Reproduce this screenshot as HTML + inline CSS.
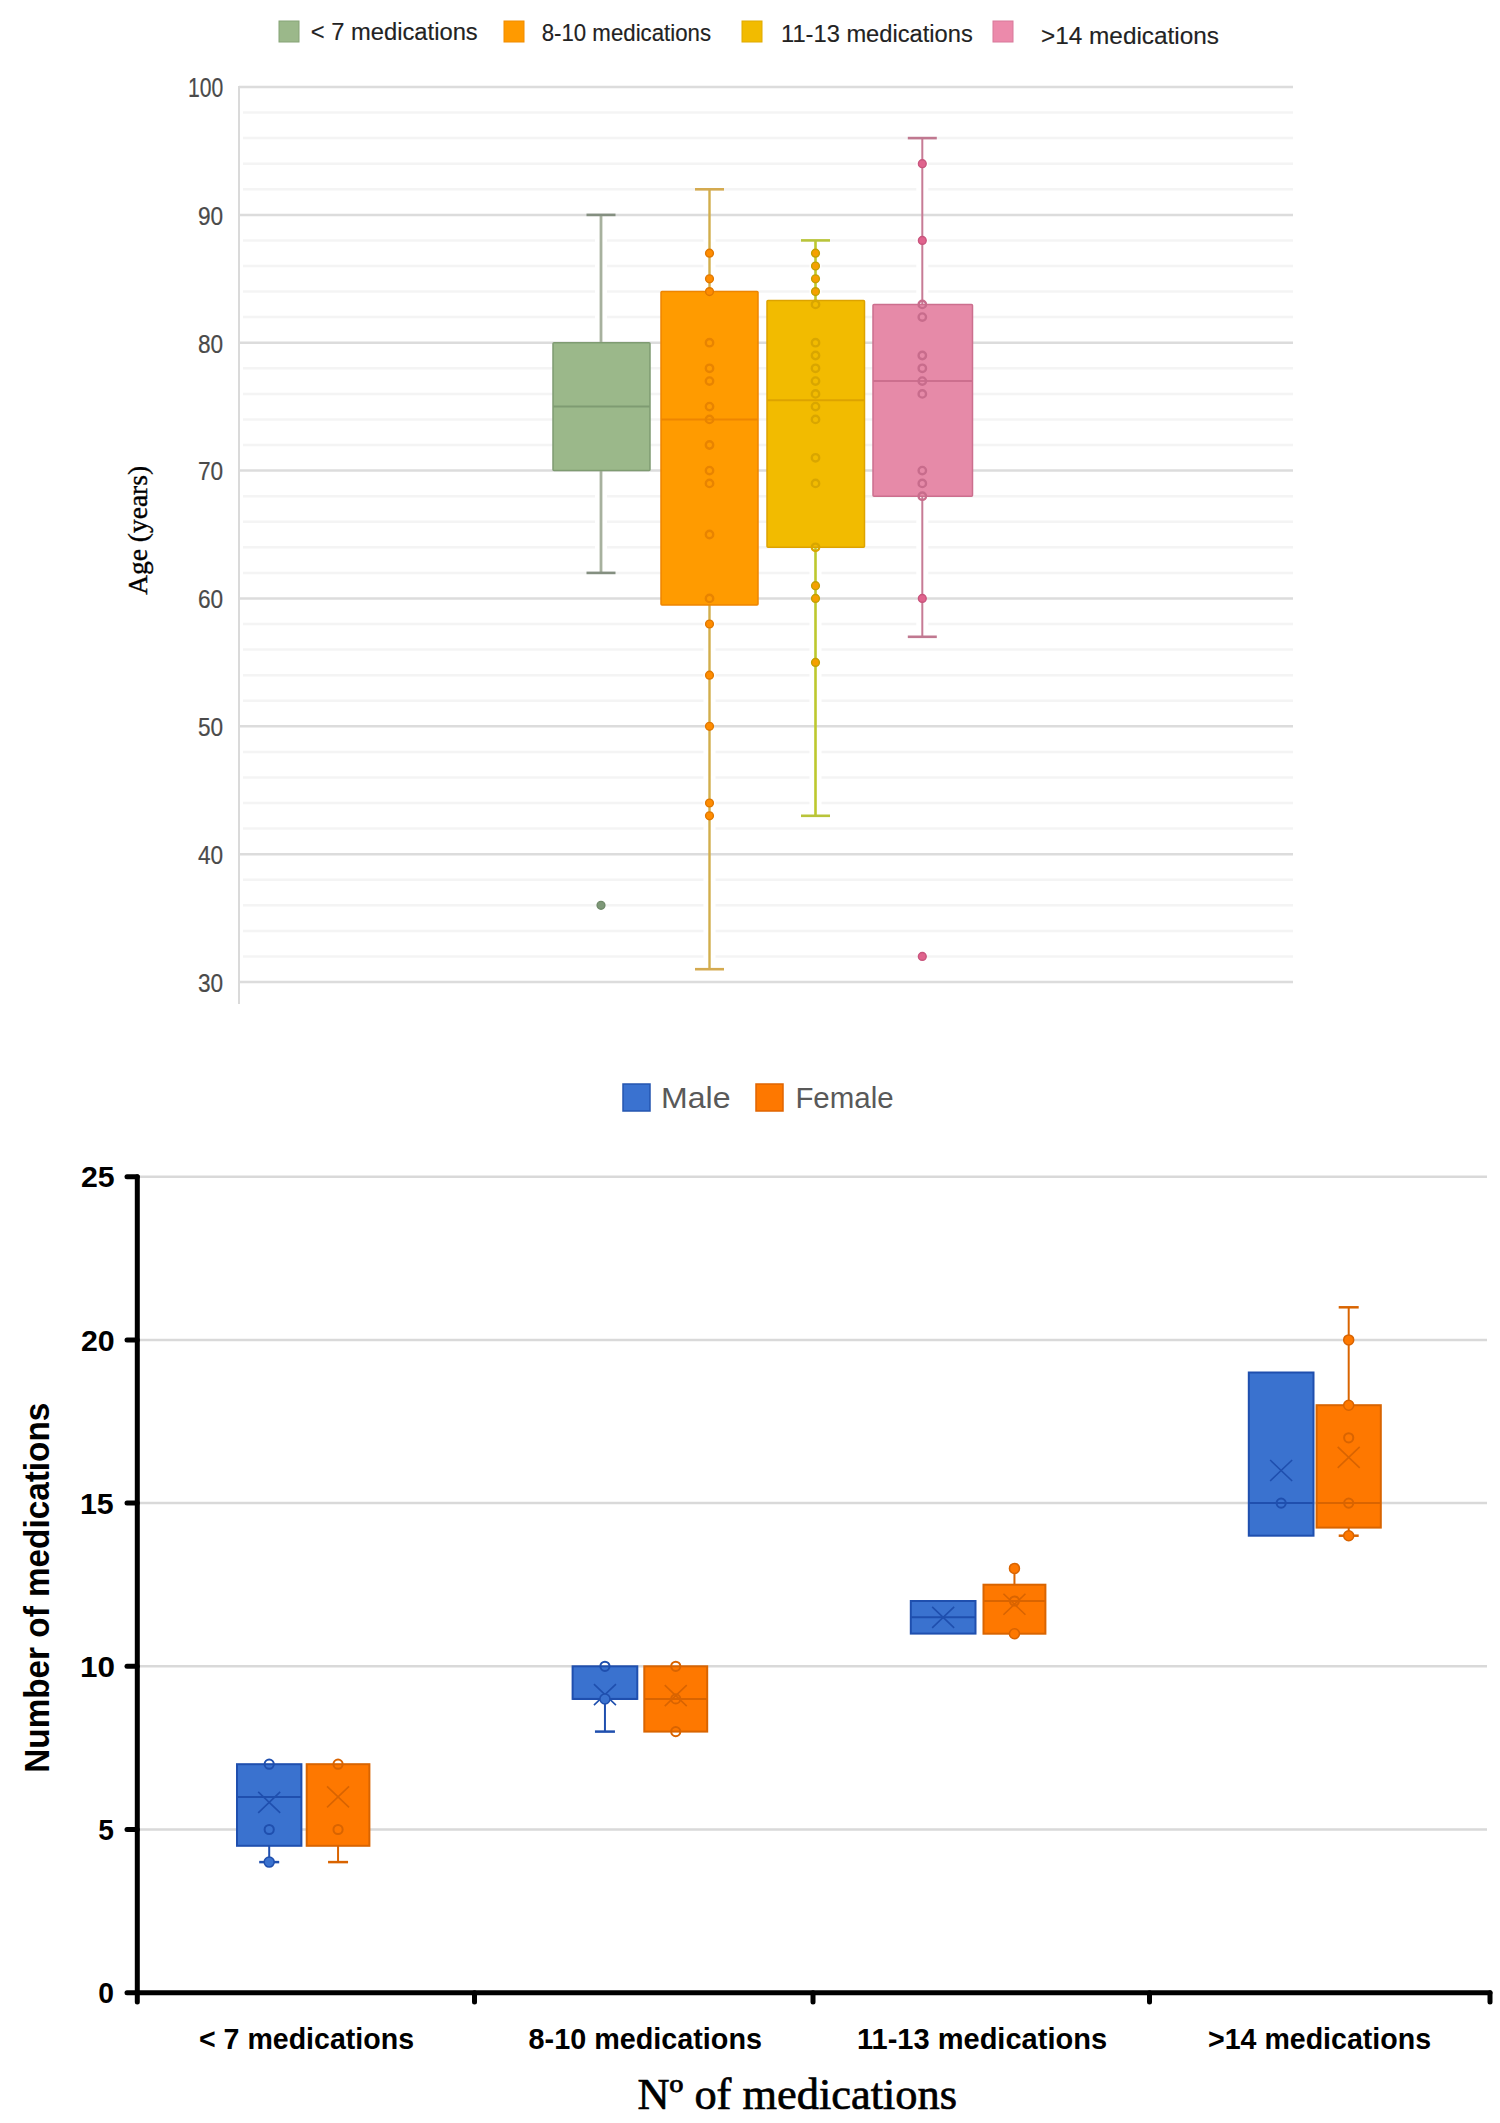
<!DOCTYPE html><html><head><meta charset="utf-8"><title>Box plots: age and number of medications</title><style>html,body{margin:0;padding:0;background:#fff;}svg{display:block;}</style></head><body>
<svg width="1500" height="2123" viewBox="0 0 1500 2123">
<rect width="1500" height="2123" fill="#fff"/>
<line x1="243" y1="956.4" x2="1293" y2="956.4" stroke="#f4f4f4" stroke-width="2.5"/>
<line x1="243" y1="930.9" x2="1293" y2="930.9" stroke="#f4f4f4" stroke-width="2.5"/>
<line x1="243" y1="905.3" x2="1293" y2="905.3" stroke="#f4f4f4" stroke-width="2.5"/>
<line x1="243" y1="879.7" x2="1293" y2="879.7" stroke="#f4f4f4" stroke-width="2.5"/>
<line x1="243" y1="828.6" x2="1293" y2="828.6" stroke="#f4f4f4" stroke-width="2.5"/>
<line x1="243" y1="803.0" x2="1293" y2="803.0" stroke="#f4f4f4" stroke-width="2.5"/>
<line x1="243" y1="777.4" x2="1293" y2="777.4" stroke="#f4f4f4" stroke-width="2.5"/>
<line x1="243" y1="751.9" x2="1293" y2="751.9" stroke="#f4f4f4" stroke-width="2.5"/>
<line x1="243" y1="700.7" x2="1293" y2="700.7" stroke="#f4f4f4" stroke-width="2.5"/>
<line x1="243" y1="675.2" x2="1293" y2="675.2" stroke="#f4f4f4" stroke-width="2.5"/>
<line x1="243" y1="649.6" x2="1293" y2="649.6" stroke="#f4f4f4" stroke-width="2.5"/>
<line x1="243" y1="624.0" x2="1293" y2="624.0" stroke="#f4f4f4" stroke-width="2.5"/>
<line x1="243" y1="572.9" x2="1293" y2="572.9" stroke="#f4f4f4" stroke-width="2.5"/>
<line x1="243" y1="547.3" x2="1293" y2="547.3" stroke="#f4f4f4" stroke-width="2.5"/>
<line x1="243" y1="521.7" x2="1293" y2="521.7" stroke="#f4f4f4" stroke-width="2.5"/>
<line x1="243" y1="496.2" x2="1293" y2="496.2" stroke="#f4f4f4" stroke-width="2.5"/>
<line x1="243" y1="445.0" x2="1293" y2="445.0" stroke="#f4f4f4" stroke-width="2.5"/>
<line x1="243" y1="419.4" x2="1293" y2="419.4" stroke="#f4f4f4" stroke-width="2.5"/>
<line x1="243" y1="393.9" x2="1293" y2="393.9" stroke="#f4f4f4" stroke-width="2.5"/>
<line x1="243" y1="368.3" x2="1293" y2="368.3" stroke="#f4f4f4" stroke-width="2.5"/>
<line x1="243" y1="317.1" x2="1293" y2="317.1" stroke="#f4f4f4" stroke-width="2.5"/>
<line x1="243" y1="291.6" x2="1293" y2="291.6" stroke="#f4f4f4" stroke-width="2.5"/>
<line x1="243" y1="266.0" x2="1293" y2="266.0" stroke="#f4f4f4" stroke-width="2.5"/>
<line x1="243" y1="240.4" x2="1293" y2="240.4" stroke="#f4f4f4" stroke-width="2.5"/>
<line x1="243" y1="189.3" x2="1293" y2="189.3" stroke="#f4f4f4" stroke-width="2.5"/>
<line x1="243" y1="163.7" x2="1293" y2="163.7" stroke="#f4f4f4" stroke-width="2.5"/>
<line x1="243" y1="138.1" x2="1293" y2="138.1" stroke="#f4f4f4" stroke-width="2.5"/>
<line x1="243" y1="112.6" x2="1293" y2="112.6" stroke="#f4f4f4" stroke-width="2.5"/>
<line x1="601" y1="216.9" x2="601" y2="342.7" stroke="#fff" stroke-width="12"/>
<line x1="601" y1="470.6" x2="601" y2="570.9" stroke="#fff" stroke-width="12"/>
<line x1="709.5" y1="191.3" x2="709.5" y2="291.6" stroke="#fff" stroke-width="12"/>
<line x1="709.5" y1="604.8" x2="709.5" y2="967.2" stroke="#fff" stroke-width="12"/>
<line x1="815.5" y1="242.4" x2="815.5" y2="300.5" stroke="#fff" stroke-width="12"/>
<line x1="815.5" y1="547.3" x2="815.5" y2="813.8" stroke="#fff" stroke-width="12"/>
<line x1="922.3" y1="140.1" x2="922.3" y2="304.4" stroke="#fff" stroke-width="12"/>
<line x1="922.3" y1="496.2" x2="922.3" y2="634.8" stroke="#fff" stroke-width="12"/>
<line x1="239" y1="982.0" x2="1293" y2="982.0" stroke="#dcdcdc" stroke-width="2.5"/>
<line x1="239" y1="854.2" x2="1293" y2="854.2" stroke="#dcdcdc" stroke-width="2.5"/>
<line x1="239" y1="726.3" x2="1293" y2="726.3" stroke="#dcdcdc" stroke-width="2.5"/>
<line x1="239" y1="598.4" x2="1293" y2="598.4" stroke="#dcdcdc" stroke-width="2.5"/>
<line x1="239" y1="470.6" x2="1293" y2="470.6" stroke="#dcdcdc" stroke-width="2.5"/>
<line x1="239" y1="342.7" x2="1293" y2="342.7" stroke="#dcdcdc" stroke-width="2.5"/>
<line x1="239" y1="214.9" x2="1293" y2="214.9" stroke="#dcdcdc" stroke-width="2.5"/>
<line x1="239" y1="87.0" x2="1293" y2="87.0" stroke="#dcdcdc" stroke-width="2.5"/>
<line x1="239" y1="86" x2="239" y2="1004" stroke="#dadada" stroke-width="2"/>
<text x="198.00" y="992.22" textLength="25.19" lengthAdjust="spacingAndGlyphs" font-family="Liberation Sans, sans-serif" font-weight="normal" font-size="25.00" fill="#4a4a4a" stroke="#4a4a4a" stroke-width="0.2">30</text>
<text x="198.00" y="864.16" textLength="25.19" lengthAdjust="spacingAndGlyphs" font-family="Liberation Sans, sans-serif" font-weight="normal" font-size="25.00" fill="#4a4a4a" stroke="#4a4a4a" stroke-width="0.2">40</text>
<text x="198.00" y="736.10" textLength="25.19" lengthAdjust="spacingAndGlyphs" font-family="Liberation Sans, sans-serif" font-weight="normal" font-size="25.00" fill="#4a4a4a" stroke="#4a4a4a" stroke-width="0.2">50</text>
<text x="198.00" y="608.04" textLength="25.19" lengthAdjust="spacingAndGlyphs" font-family="Liberation Sans, sans-serif" font-weight="normal" font-size="25.00" fill="#4a4a4a" stroke="#4a4a4a" stroke-width="0.2">60</text>
<text x="198.00" y="479.98" textLength="25.19" lengthAdjust="spacingAndGlyphs" font-family="Liberation Sans, sans-serif" font-weight="normal" font-size="25.00" fill="#4a4a4a" stroke="#4a4a4a" stroke-width="0.2">70</text>
<text x="198.00" y="352.92" textLength="25.19" lengthAdjust="spacingAndGlyphs" font-family="Liberation Sans, sans-serif" font-weight="normal" font-size="25.00" fill="#4a4a4a" stroke="#4a4a4a" stroke-width="0.2">80</text>
<text x="198.00" y="224.86" textLength="25.19" lengthAdjust="spacingAndGlyphs" font-family="Liberation Sans, sans-serif" font-weight="normal" font-size="25.00" fill="#4a4a4a" stroke="#4a4a4a" stroke-width="0.2">90</text>
<text x="188.00" y="97.00" textLength="35.31" lengthAdjust="spacingAndGlyphs" font-family="Liberation Sans, sans-serif" font-weight="normal" font-size="27.32" fill="#4a4a4a" stroke="#4a4a4a" stroke-width="0.2">100</text>
<text transform="translate(147.30,594.70) rotate(-90)" x="0" y="0" textLength="128.72" lengthAdjust="spacingAndGlyphs" font-family="Liberation Serif, serif" font-weight="normal" font-size="28.00" fill="#000" stroke="#000" stroke-width="0.4">Age (years)</text>
<rect x="279" y="21" width="20" height="21" fill="#9bb88a" stroke="#86a377" stroke-width="1"/>
<rect x="504" y="21" width="20" height="21" fill="#ff9a00" stroke="#f08c00" stroke-width="1"/>
<rect x="742" y="21" width="20" height="21" fill="#f2bb00" stroke="#e0aa00" stroke-width="1"/>
<rect x="993" y="21" width="20" height="21" fill="#ec8aab" stroke="#d8789a" stroke-width="1"/>
<text x="310.70" y="39.80" textLength="167.04" lengthAdjust="spacingAndGlyphs" font-family="Liberation Sans, sans-serif" font-weight="normal" font-size="24.61" fill="#222" stroke="#222" stroke-width="0.15">&lt; 7 medications</text>
<text x="541.70" y="41.00" textLength="169.35" lengthAdjust="spacingAndGlyphs" font-family="Liberation Sans, sans-serif" font-weight="normal" font-size="23.64" fill="#222" stroke="#222" stroke-width="0.15">8-10 medications</text>
<text x="781.00" y="41.50" textLength="191.75" lengthAdjust="spacingAndGlyphs" font-family="Liberation Sans, sans-serif" font-weight="normal" font-size="24.75" fill="#222" stroke="#222" stroke-width="0.15">11-13 medications</text>
<text x="1041.00" y="43.70" textLength="178.02" lengthAdjust="spacingAndGlyphs" font-family="Liberation Sans, sans-serif" font-weight="normal" font-size="23.81" fill="#222" stroke="#222" stroke-width="0.15">&gt;14 medications</text>
<line x1="601" y1="214.9" x2="601" y2="342.7" stroke="#a7b19e" stroke-width="2.8"/>
<line x1="601" y1="470.6" x2="601" y2="572.9" stroke="#a7b19e" stroke-width="2.8"/>
<line x1="586.5" y1="214.9" x2="615.5" y2="214.9" stroke="#848f80" stroke-width="2.6"/>
<line x1="586.5" y1="572.9" x2="615.5" y2="572.9" stroke="#848f80" stroke-width="2.6"/>
<rect x="553" y="342.7" width="97" height="127.9" fill="#9bb88a" stroke="#7f9b72" stroke-width="1.5" rx="1"/>
<line x1="553" y1="406.6" x2="650" y2="406.6" stroke="#7f9b72" stroke-width="2"/>
<circle cx="601" cy="905.3" r="3.9" fill="#7e9878" stroke="#708a6a" stroke-width="1.4"/>
<line x1="709.5" y1="189.3" x2="709.5" y2="291.6" stroke="#d2ae4c" stroke-width="2.4"/>
<line x1="709.5" y1="604.8" x2="709.5" y2="969.2" stroke="#d2ae4c" stroke-width="2.4"/>
<line x1="695.0" y1="189.3" x2="724.0" y2="189.3" stroke="#d4aa50" stroke-width="2.6"/>
<line x1="695.0" y1="969.2" x2="724.0" y2="969.2" stroke="#d4aa50" stroke-width="2.6"/>
<rect x="661" y="291.6" width="97" height="313.3" fill="#ff9b00" stroke="#ee8500" stroke-width="1.5" rx="1"/>
<line x1="661" y1="419.4" x2="758" y2="419.4" stroke="#ee8500" stroke-width="2"/>
<circle cx="709.5" cy="342.7" r="3.7" fill="none" stroke="#e88400" stroke-width="2.4"/>
<circle cx="709.5" cy="368.3" r="3.7" fill="none" stroke="#e88400" stroke-width="2.4"/>
<circle cx="709.5" cy="381.1" r="3.7" fill="none" stroke="#e88400" stroke-width="2.4"/>
<circle cx="709.5" cy="406.6" r="3.7" fill="none" stroke="#e88400" stroke-width="2.4"/>
<circle cx="709.5" cy="419.4" r="3.7" fill="none" stroke="#e88400" stroke-width="2.4"/>
<circle cx="709.5" cy="445.0" r="3.7" fill="none" stroke="#e88400" stroke-width="2.4"/>
<circle cx="709.5" cy="470.6" r="3.7" fill="none" stroke="#e88400" stroke-width="2.4"/>
<circle cx="709.5" cy="483.4" r="3.7" fill="none" stroke="#e88400" stroke-width="2.4"/>
<circle cx="709.5" cy="534.5" r="3.7" fill="none" stroke="#e88400" stroke-width="2.4"/>
<circle cx="709.5" cy="598.4" r="3.7" fill="none" stroke="#e88400" stroke-width="2.4"/>
<circle cx="709.5" cy="253.2" r="3.9" fill="#ff8c00" stroke="#e07800" stroke-width="1.4"/>
<circle cx="709.5" cy="278.8" r="3.9" fill="#ff8c00" stroke="#e07800" stroke-width="1.4"/>
<circle cx="709.5" cy="291.6" r="3.9" fill="#ff8c00" stroke="#e07800" stroke-width="1.4"/>
<circle cx="709.5" cy="624.0" r="3.9" fill="#ff8c00" stroke="#e07800" stroke-width="1.4"/>
<circle cx="709.5" cy="675.2" r="3.9" fill="#ff8c00" stroke="#e07800" stroke-width="1.4"/>
<circle cx="709.5" cy="726.3" r="3.9" fill="#ff8c00" stroke="#e07800" stroke-width="1.4"/>
<circle cx="709.5" cy="803.0" r="3.9" fill="#ff8c00" stroke="#e07800" stroke-width="1.4"/>
<circle cx="709.5" cy="815.8" r="3.9" fill="#ff8c00" stroke="#e07800" stroke-width="1.4"/>
<line x1="815.5" y1="240.4" x2="815.5" y2="300.5" stroke="#bdc82e" stroke-width="2.6"/>
<line x1="815.5" y1="547.3" x2="815.5" y2="815.8" stroke="#bdc82e" stroke-width="2.6"/>
<line x1="801.0" y1="240.4" x2="830.0" y2="240.4" stroke="#b9c43a" stroke-width="2.6"/>
<line x1="801.0" y1="815.8" x2="830.0" y2="815.8" stroke="#b9c43a" stroke-width="2.6"/>
<rect x="767" y="300.5" width="97.5" height="246.8" fill="#f2bb00" stroke="#dda300" stroke-width="1.5" rx="1"/>
<line x1="767" y1="400.3" x2="864.5" y2="400.3" stroke="#dda300" stroke-width="2"/>
<circle cx="815.5" cy="304.4" r="3.7" fill="none" stroke="#d9a600" stroke-width="2.4"/>
<circle cx="815.5" cy="342.7" r="3.7" fill="none" stroke="#d9a600" stroke-width="2.4"/>
<circle cx="815.5" cy="355.5" r="3.7" fill="none" stroke="#d9a600" stroke-width="2.4"/>
<circle cx="815.5" cy="368.3" r="3.7" fill="none" stroke="#d9a600" stroke-width="2.4"/>
<circle cx="815.5" cy="381.1" r="3.7" fill="none" stroke="#d9a600" stroke-width="2.4"/>
<circle cx="815.5" cy="393.9" r="3.7" fill="none" stroke="#d9a600" stroke-width="2.4"/>
<circle cx="815.5" cy="406.6" r="3.7" fill="none" stroke="#d9a600" stroke-width="2.4"/>
<circle cx="815.5" cy="419.4" r="3.7" fill="none" stroke="#d9a600" stroke-width="2.4"/>
<circle cx="815.5" cy="457.8" r="3.7" fill="none" stroke="#d9a600" stroke-width="2.4"/>
<circle cx="815.5" cy="483.4" r="3.7" fill="none" stroke="#d9a600" stroke-width="2.4"/>
<circle cx="815.5" cy="547.3" r="3.7" fill="none" stroke="#d9a600" stroke-width="2.4"/>
<circle cx="815.5" cy="253.2" r="3.9" fill="#f5a000" stroke="#c4a000" stroke-width="1.4"/>
<circle cx="815.5" cy="266.0" r="3.9" fill="#f5a000" stroke="#c4a000" stroke-width="1.4"/>
<circle cx="815.5" cy="278.8" r="3.9" fill="#f5a000" stroke="#c4a000" stroke-width="1.4"/>
<circle cx="815.5" cy="291.6" r="3.9" fill="#f5a000" stroke="#c4a000" stroke-width="1.4"/>
<circle cx="815.5" cy="585.7" r="3.9" fill="#f5a000" stroke="#c4a000" stroke-width="1.4"/>
<circle cx="815.5" cy="598.4" r="3.9" fill="#f5a000" stroke="#c4a000" stroke-width="1.4"/>
<circle cx="815.5" cy="662.4" r="3.9" fill="#f5a000" stroke="#c4a000" stroke-width="1.4"/>
<line x1="922.3" y1="138.1" x2="922.3" y2="304.4" stroke="#c77b95" stroke-width="2.0"/>
<line x1="922.3" y1="496.2" x2="922.3" y2="636.8" stroke="#c77b95" stroke-width="2.0"/>
<line x1="907.8" y1="138.1" x2="936.8" y2="138.1" stroke="#c07890" stroke-width="2.6"/>
<line x1="907.8" y1="636.8" x2="936.8" y2="636.8" stroke="#c07890" stroke-width="2.6"/>
<rect x="873" y="304.4" width="99.5" height="191.8" fill="#e68aa8" stroke="#cc6f8e" stroke-width="1.5" rx="1"/>
<line x1="873" y1="381.1" x2="972.5" y2="381.1" stroke="#cc6f8e" stroke-width="2"/>
<circle cx="922.3" cy="304.4" r="3.7" fill="none" stroke="#c86c8c" stroke-width="2.4"/>
<circle cx="922.3" cy="317.1" r="3.7" fill="none" stroke="#c86c8c" stroke-width="2.4"/>
<circle cx="922.3" cy="355.5" r="3.7" fill="none" stroke="#c86c8c" stroke-width="2.4"/>
<circle cx="922.3" cy="368.3" r="3.7" fill="none" stroke="#c86c8c" stroke-width="2.4"/>
<circle cx="922.3" cy="381.1" r="3.7" fill="none" stroke="#c86c8c" stroke-width="2.4"/>
<circle cx="922.3" cy="393.9" r="3.7" fill="none" stroke="#c86c8c" stroke-width="2.4"/>
<circle cx="922.3" cy="470.6" r="3.7" fill="none" stroke="#c86c8c" stroke-width="2.4"/>
<circle cx="922.3" cy="483.4" r="3.7" fill="none" stroke="#c86c8c" stroke-width="2.4"/>
<circle cx="922.3" cy="496.2" r="3.7" fill="none" stroke="#c86c8c" stroke-width="2.4"/>
<circle cx="922.3" cy="163.7" r="3.9" fill="#e0638d" stroke="#c8557d" stroke-width="1.4"/>
<circle cx="922.3" cy="240.4" r="3.9" fill="#e0638d" stroke="#c8557d" stroke-width="1.4"/>
<circle cx="922.3" cy="598.4" r="3.9" fill="#e0638d" stroke="#c8557d" stroke-width="1.4"/>
<circle cx="922.3" cy="956.4" r="3.9" fill="#e0638d" stroke="#c8557d" stroke-width="1.4"/>
<rect x="623" y="1084" width="27" height="27" fill="#3a72d0" stroke="#2456b0" stroke-width="1.5"/>
<rect x="756" y="1084" width="27" height="27" fill="#fe7800" stroke="#e06400" stroke-width="1.5"/>
<text x="661.00" y="1108.20" textLength="69.50" lengthAdjust="spacingAndGlyphs" font-family="Liberation Sans, sans-serif" font-weight="normal" font-size="29.17" fill="#595959">Male</text>
<text x="795.40" y="1108.20" textLength="98.18" lengthAdjust="spacingAndGlyphs" font-family="Liberation Sans, sans-serif" font-weight="normal" font-size="29.17" fill="#595959">Female</text>
<line x1="140" y1="1829.5" x2="1487" y2="1829.5" stroke="#d9d9d9" stroke-width="2.5"/>
<line x1="140" y1="1666.3" x2="1487" y2="1666.3" stroke="#d9d9d9" stroke-width="2.5"/>
<line x1="140" y1="1503.1" x2="1487" y2="1503.1" stroke="#d9d9d9" stroke-width="2.5"/>
<line x1="140" y1="1339.9" x2="1487" y2="1339.9" stroke="#d9d9d9" stroke-width="2.5"/>
<line x1="140" y1="1176.7" x2="1487" y2="1176.7" stroke="#d9d9d9" stroke-width="2.5"/>
<line x1="137.3" y1="1176.7" x2="137.3" y2="2002" stroke="#000" stroke-width="5" stroke-linecap="round"/>
<line x1="137.3" y1="1992.7" x2="1490" y2="1992.7" stroke="#000" stroke-width="5" stroke-linecap="round"/>
<line x1="127" y1="1992.7" x2="137.3" y2="1992.7" stroke="#000" stroke-width="5" stroke-linecap="round"/>
<text x="98.30" y="2003.30" textLength="15.73" lengthAdjust="spacingAndGlyphs" font-family="Liberation Sans, sans-serif" font-weight="bold" font-size="30.22" fill="#000">0</text>
<line x1="127" y1="1829.5" x2="137.3" y2="1829.5" stroke="#000" stroke-width="5" stroke-linecap="round"/>
<text x="98.30" y="1840.10" textLength="15.65" lengthAdjust="spacingAndGlyphs" font-family="Liberation Sans, sans-serif" font-weight="bold" font-size="30.22" fill="#000">5</text>
<line x1="127" y1="1666.3" x2="137.3" y2="1666.3" stroke="#000" stroke-width="5" stroke-linecap="round"/>
<text x="80.00" y="1676.90" textLength="34.96" lengthAdjust="spacingAndGlyphs" font-family="Liberation Sans, sans-serif" font-weight="bold" font-size="30.22" fill="#000">10</text>
<line x1="127" y1="1503.1" x2="137.3" y2="1503.1" stroke="#000" stroke-width="5" stroke-linecap="round"/>
<text x="80.00" y="1513.70" textLength="33.76" lengthAdjust="spacingAndGlyphs" font-family="Liberation Sans, sans-serif" font-weight="bold" font-size="30.22" fill="#000">15</text>
<line x1="127" y1="1339.9" x2="137.3" y2="1339.9" stroke="#000" stroke-width="5" stroke-linecap="round"/>
<text x="81.00" y="1350.50" textLength="33.76" lengthAdjust="spacingAndGlyphs" font-family="Liberation Sans, sans-serif" font-weight="bold" font-size="30.22" fill="#000">20</text>
<line x1="127" y1="1176.7" x2="137.3" y2="1176.7" stroke="#000" stroke-width="5" stroke-linecap="round"/>
<text x="81.00" y="1187.30" textLength="33.68" lengthAdjust="spacingAndGlyphs" font-family="Liberation Sans, sans-serif" font-weight="bold" font-size="30.22" fill="#000">25</text>
<line x1="474.5" y1="1992.7" x2="474.5" y2="2002" stroke="#000" stroke-width="5" stroke-linecap="round"/>
<line x1="813" y1="1992.7" x2="813" y2="2002" stroke="#000" stroke-width="5" stroke-linecap="round"/>
<line x1="1149.5" y1="1992.7" x2="1149.5" y2="2002" stroke="#000" stroke-width="5" stroke-linecap="round"/>
<line x1="1490" y1="1992.7" x2="1490" y2="2002" stroke="#000" stroke-width="5" stroke-linecap="round"/>
<text x="199.00" y="2048.60" textLength="215.02" lengthAdjust="spacingAndGlyphs" font-family="Liberation Sans, sans-serif" font-weight="bold" font-size="29.29" fill="#000">&lt; 7 medications</text>
<text x="528.60" y="2048.60" textLength="233.42" lengthAdjust="spacingAndGlyphs" font-family="Liberation Sans, sans-serif" font-weight="bold" font-size="29.29" fill="#000">8-10 medications</text>
<text x="857.00" y="2048.60" textLength="250.04" lengthAdjust="spacingAndGlyphs" font-family="Liberation Sans, sans-serif" font-weight="bold" font-size="29.29" fill="#000">11-13 medications</text>
<text x="1208.00" y="2048.60" textLength="223.02" lengthAdjust="spacingAndGlyphs" font-family="Liberation Sans, sans-serif" font-weight="bold" font-size="29.29" fill="#000">&gt;14 medications</text>
<text x="637.50" y="2109.30" textLength="319.52" lengthAdjust="spacingAndGlyphs" font-family="Liberation Serif, serif" font-weight="normal" font-size="43.51" fill="#000" stroke="#000" stroke-width="0.7">N&#186; of medications</text>
<text transform="translate(48.50,1772.70) rotate(-90)" x="0" y="0" textLength="369.93" lengthAdjust="spacingAndGlyphs" font-family="Liberation Sans, sans-serif" font-weight="bold" font-size="35.70" fill="#000">Number of medications</text>
<line x1="269.2" y1="1845.8" x2="269.2" y2="1862.1" stroke="#1f4fae" stroke-width="2"/>
<line x1="259.2" y1="1862.1" x2="279.2" y2="1862.1" stroke="#1f4fae" stroke-width="2.5"/>
<rect x="237" y="1764.2" width="64.4" height="81.6" fill="#3a72cf" stroke="#1f4fae" stroke-width="2"/>
<line x1="237" y1="1796.9" x2="301.4" y2="1796.9" stroke="#1f4fae" stroke-width="2"/>
<path d="M258.2,1791.9088000000002 L280.2,1812.9088000000002 M258.2,1812.9088000000002 L280.2,1791.9088000000002" stroke="#1f4fae" stroke-width="1.6" fill="none"/>
<circle cx="269.2" cy="1764.2" r="4.6" fill="none" stroke="#1f4fae" stroke-width="2"/>
<circle cx="269.2" cy="1829.5" r="4.6" fill="none" stroke="#1f4fae" stroke-width="2"/>
<circle cx="269.2" cy="1862.1" r="5" fill="#3a72cf" stroke="#1f4fae" stroke-width="1.5"/>
<line x1="338.04999999999995" y1="1845.8" x2="338.04999999999995" y2="1862.1" stroke="#d96400" stroke-width="2"/>
<line x1="328.04999999999995" y1="1862.1" x2="348.04999999999995" y2="1862.1" stroke="#d96400" stroke-width="2.5"/>
<rect x="306.7" y="1764.2" width="62.7" height="81.6" fill="#fe7800" stroke="#d96400" stroke-width="2"/>
<path d="M327.04999999999995,1786.3600000000001 L349.04999999999995,1807.3600000000001 M327.04999999999995,1807.3600000000001 L349.04999999999995,1786.3600000000001" stroke="#d96400" stroke-width="1.6" fill="none"/>
<circle cx="338.04999999999995" cy="1764.2" r="4.6" fill="none" stroke="#d96400" stroke-width="2"/>
<circle cx="338.04999999999995" cy="1829.5" r="4.6" fill="none" stroke="#d96400" stroke-width="2"/>
<line x1="604.95" y1="1698.9" x2="604.95" y2="1731.6" stroke="#1f4fae" stroke-width="2"/>
<line x1="594.95" y1="1731.6" x2="614.95" y2="1731.6" stroke="#1f4fae" stroke-width="2.5"/>
<rect x="572.6" y="1666.3" width="64.7" height="32.6" fill="#3a72cf" stroke="#1f4fae" stroke-width="2"/>
<line x1="572.6" y1="1698.9" x2="637.3" y2="1698.9" stroke="#1f4fae" stroke-width="2"/>
<path d="M593.95,1684.1968 L615.95,1705.1968 M593.95,1705.1968 L615.95,1684.1968" stroke="#1f4fae" stroke-width="1.6" fill="none"/>
<circle cx="604.95" cy="1666.3" r="4.6" fill="none" stroke="#1f4fae" stroke-width="2"/>
<circle cx="604.95" cy="1698.9" r="5" fill="#3a72cf" stroke="#1f4fae" stroke-width="1.5"/>
<rect x="644.3" y="1666.3" width="62.9" height="65.3" fill="#fe7800" stroke="#d96400" stroke-width="2"/>
<line x1="644.3" y1="1698.9" x2="707.2" y2="1698.9" stroke="#d96400" stroke-width="2"/>
<path d="M664.75,1685.176 L686.75,1706.176 M664.75,1706.176 L686.75,1685.176" stroke="#d96400" stroke-width="1.6" fill="none"/>
<circle cx="675.75" cy="1666.3" r="4.6" fill="none" stroke="#d96400" stroke-width="2"/>
<circle cx="675.75" cy="1698.9" r="4.6" fill="none" stroke="#d96400" stroke-width="2"/>
<circle cx="675.75" cy="1731.6" r="4.6" fill="none" stroke="#d96400" stroke-width="2"/>
<rect x="910.8" y="1601.0" width="64.7" height="32.6" fill="#3a72cf" stroke="#1f4fae" stroke-width="2"/>
<line x1="910.8" y1="1617.3" x2="975.5" y2="1617.3" stroke="#1f4fae" stroke-width="2"/>
<path d="M932.15,1606.8400000000001 L954.15,1627.8400000000001 M932.15,1627.8400000000001 L954.15,1606.8400000000001" stroke="#1f4fae" stroke-width="1.6" fill="none"/>
<line x1="1014.45" y1="1568.4" x2="1014.45" y2="1584.7" stroke="#d96400" stroke-width="2"/>
<rect x="983.5" y="1584.7" width="61.9" height="49.0" fill="#fe7800" stroke="#d96400" stroke-width="2"/>
<line x1="983.5" y1="1601.0" x2="1045.4" y2="1601.0" stroke="#d96400" stroke-width="2"/>
<path d="M1003.45,1593.784 L1025.45,1614.784 M1003.45,1614.784 L1025.45,1593.784" stroke="#d96400" stroke-width="1.6" fill="none"/>
<circle cx="1014.45" cy="1601.0" r="4.6" fill="none" stroke="#d96400" stroke-width="2"/>
<circle cx="1014.45" cy="1568.4" r="5" fill="#fe7800" stroke="#d96400" stroke-width="1.5"/>
<circle cx="1014.45" cy="1633.7" r="5" fill="#fe7800" stroke="#d96400" stroke-width="1.5"/>
<rect x="1248.8" y="1372.5" width="64.7" height="163.2" fill="#3a72cf" stroke="#1f4fae" stroke-width="2"/>
<line x1="1248.8" y1="1503.1" x2="1313.5" y2="1503.1" stroke="#1f4fae" stroke-width="2"/>
<path d="M1270.15,1459.96 L1292.15,1480.96 M1270.15,1480.96 L1292.15,1459.96" stroke="#1f4fae" stroke-width="1.6" fill="none"/>
<circle cx="1281.15" cy="1503.1" r="4.6" fill="none" stroke="#1f4fae" stroke-width="2"/>
<line x1="1348.6999999999998" y1="1307.3" x2="1348.6999999999998" y2="1405.2" stroke="#d96400" stroke-width="2"/>
<line x1="1338.6999999999998" y1="1307.3" x2="1358.6999999999998" y2="1307.3" stroke="#d96400" stroke-width="2.5"/>
<line x1="1348.6999999999998" y1="1527.6" x2="1348.6999999999998" y2="1535.7" stroke="#d96400" stroke-width="2"/>
<line x1="1338.6999999999998" y1="1535.7" x2="1358.6999999999998" y2="1535.7" stroke="#d96400" stroke-width="2.5"/>
<rect x="1316.6" y="1405.2" width="64.2" height="122.4" fill="#fe7800" stroke="#d96400" stroke-width="2"/>
<line x1="1316.6" y1="1503.1" x2="1380.8" y2="1503.1" stroke="#d96400" stroke-width="2"/>
<path d="M1337.6999999999998,1446.904 L1359.6999999999998,1467.904 M1337.6999999999998,1467.904 L1359.6999999999998,1446.904" stroke="#d96400" stroke-width="1.6" fill="none"/>
<circle cx="1348.6999999999998" cy="1437.8" r="4.6" fill="none" stroke="#d96400" stroke-width="2"/>
<circle cx="1348.6999999999998" cy="1503.1" r="4.6" fill="none" stroke="#d96400" stroke-width="2"/>
<circle cx="1348.6999999999998" cy="1339.9" r="5" fill="#fe7800" stroke="#d96400" stroke-width="1.5"/>
<circle cx="1348.6999999999998" cy="1405.2" r="5" fill="#fe7800" stroke="#d96400" stroke-width="1.5"/>
<circle cx="1348.6999999999998" cy="1535.7" r="5" fill="#fe7800" stroke="#d96400" stroke-width="1.5"/>
</svg></body></html>
